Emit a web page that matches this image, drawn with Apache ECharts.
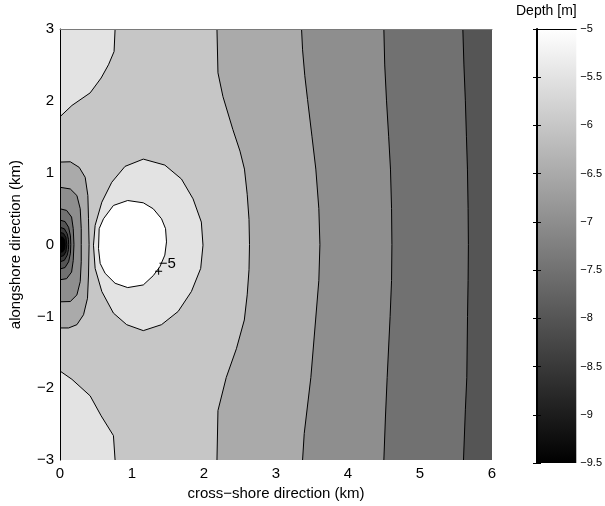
<!DOCTYPE html>
<html><head><meta charset="utf-8">
<script src="https://cdn.jsdelivr.net/npm/echarts@6/dist/echarts.min.js"></script>
<style>html,body{margin:0;padding:0;background:#fff}#c{width:605px;height:506px}</style>
</head><body><div id="c"></div>
<script>
// ---- axis ticks ----
const xTicks = [0, 1, 2, 3, 4, 5, 6];
const yTicks = [-3, -2, -1, 0, 1, 2, 3];
const cbTicks = [-9.5, -9, -8.5, -8, -7.5, -7, -6.5, -6, -5.5, -5];
const cbRange = [-9.5, -5];

// ---- contour lines: [x km, y km] ----
// open contours crossing the domain top to bottom
const c_m75 = [[5.595,3],[5.61,2.5],[5.63,2],[5.645,1.5],[5.659,1.05],[5.668,0.5],[5.672,0],[5.668,-0.5],[5.66,-1],[5.65,-1.85],[5.63,-2.3],[5.604,-3]];
const c_m70 = [[4.498,3],[4.51,2.5],[4.535,2],[4.565,1.5],[4.59,1.05],[4.605,0.5],[4.61,0],[4.605,-0.5],[4.585,-1],[4.544,-1.85],[4.52,-2.4],[4.498,-3]];
const c_m65 = [[3.355,3],[3.369,2.71],[3.40,2.35],[3.438,2.02],[3.50,1.5],[3.553,1.05],[3.595,0.5],[3.61,0],[3.595,-0.5],[3.55,-1.05],[3.484,-1.85],[3.392,-2.63],[3.369,-3]];
const c_m60 = [[2.18,3],[2.194,2.39],[2.263,2.06],[2.401,1.6],[2.50,1.3],[2.562,1.05],[2.60,0.7],[2.625,0.35],[2.632,0],[2.625,-0.35],[2.60,-0.7],[2.56,-1.05],[2.45,-1.45],[2.309,-1.85],[2.194,-2.31],[2.18,-3]];
// -5.5 corners
const c_m55_top = [[0.765,3],[0.751,2.686],[0.673,2.502],[0.571,2.318],[0.419,2.111],[0.166,1.936],[0,1.779]];
const c_m55_bot = [[0,-1.76],[0.166,-1.876],[0.419,-2.106],[0.571,-2.383],[0.742,-2.659],[0.765,-3]];
// closed -5.5 ring
const c_m55_ring = [[1.157,1.189],[1.456,1.106],[1.687,0.912],[1.848,0.636],[1.963,0.313],[1.986,-0.009],[1.954,-0.332],[1.825,-0.654],[1.641,-0.931],[1.41,-1.115],[1.157,-1.198],[0.926,-1.115],[0.742,-0.954],[0.581,-0.654],[0.488,-0.332],[0.465,-0.009],[0.488,0.267],[0.581,0.59],[0.719,0.867],[0.903,1.088]];
// closed -5 contour
const c_m50 = [[0.94,0.613],[1.157,0.581],[1.295,0.498],[1.41,0.359],[1.466,0.221],[1.479,0.037],[1.456,-0.147],[1.387,-0.309],[1.295,-0.433],[1.157,-0.562],[0.94,-0.599],[0.765,-0.539],[0.627,-0.401],[0.558,-0.263],[0.535,-0.055],[0.544,0.221],[0.604,0.359],[0.742,0.544]];
// lobe contours at the shore (x = 0)
const l_m60 = [[0,1.148],[0.143,1.152],[0.267,1.074],[0.35,0.936],[0.387,0.682],[0.396,0.359],[0.404,0],[0.396,-0.424],[0.382,-0.747],[0.327,-0.977],[0.235,-1.115],[0.12,-1.161],[0,-1.161]];
const l_m65 = [[0,0.797],[0.143,0.774],[0.235,0.682],[0.281,0.498],[0.295,0.221],[0.295,0],[0.295,-0.24],[0.281,-0.516],[0.235,-0.701],[0.143,-0.793],[0,-0.797]];
const l_m70 = [[0,0.498],[0.092,0.475],[0.161,0.383],[0.184,0.221],[0.194,0],[0.184,-0.221],[0.161,-0.383],[0.092,-0.475],[0,-0.49]];
const l_m75 = [[0,0.34],[0.07,0.32],[0.12,0.24],[0.145,0.12],[0.15,0],[0.145,-0.12],[0.12,-0.24],[0.07,-0.32],[0,-0.34]];
const l_m80 = [[0,0.24],[0.06,0.22],[0.1,0.15],[0.118,0.07],[0.12,0],[0.118,-0.07],[0.1,-0.15],[0.06,-0.22],[0,-0.24]];
const l_m85 = [[0,0.17],[0.05,0.155],[0.082,0.1],[0.095,0],[0.082,-0.1],[0.05,-0.155],[0,-0.17]];
const l_m90 = [[0,0.11],[0.04,0.1],[0.065,0.06],[0.072,0],[0.065,-0.06],[0.04,-0.1],[0,-0.11]];

// label on the -5 contour
const labelText = '−5';
const labelPos = [1.37, -0.262];
const labelMark = [1.37, -0.372];

// ---- build regions (fill level = lower bound of the band inside) ----
const X0 = xTicks[0], X1 = xTicks[xTicks.length-1], Y0 = yTicks[0], Y1 = yTicks[yTicks.length-1];
const leftOf = c => [[X0, Y1]].concat(c, [[X0, Y0]]);
const fills = [
  {pts: [[X0,Y1],[X1,Y1],[X1,Y0],[X0,Y0]], lev: -8},
  {pts: leftOf(c_m75), lev: -7.5},
  {pts: leftOf(c_m70), lev: -7},
  {pts: leftOf(c_m65), lev: -6.5},
  {pts: leftOf(c_m60), lev: -6},
  {pts: [[X0,Y1]].concat(c_m55_top), lev: -5.5},
  {pts: c_m55_bot.concat([[X0,Y0]]), lev: -5.5},
  {pts: c_m55_ring, lev: -5.5},
  {pts: c_m50, lev: -5},
  {pts: l_m60, lev: -6.5},
  {pts: l_m65, lev: -7},
  {pts: l_m70, lev: -7.5},
  {pts: l_m75, lev: -8},
  {pts: l_m80, lev: -8.5},
  {pts: l_m85, lev: -9},
  {pts: l_m90, lev: -9.5}
];
const lines = [
  {pts: c_m75, closed: false}, {pts: c_m70, closed: false}, {pts: c_m65, closed: false}, {pts: c_m60, closed: false},
  {pts: c_m55_top, closed: false}, {pts: c_m55_bot, closed: false},
  {pts: c_m55_ring, closed: true}, {pts: c_m50, closed: true},
  {pts: l_m60, closed: false}, {pts: l_m65, closed: false}, {pts: l_m70, closed: false},
  {pts: l_m75, closed: false}, {pts: l_m80, closed: false}, {pts: l_m85, closed: false}, {pts: l_m90, closed: false}
];

// gray colormap (64 levels) like MATLAB
function grayOf(v) {
  const t = (v - cbRange[0]) / (cbRange[1] - cbRange[0]);
  let idx = Math.min(63, Math.max(0, Math.floor(t * 64)));
  const g = Math.round(idx / 63 * 255);
  return 'rgb(' + g + ',' + g + ',' + g + ')';
}
const minus = v => String(v).replace('-', '−');
const FONT = 'Liberation Sans, Arial, Helvetica, sans-serif';

const chart = echarts.init(document.getElementById('c'), null, {renderer: 'canvas'});
chart.setOption({
  animation: false,
  backgroundColor: '#fff',
  textStyle: {fontFamily: FONT},
  grid: [
    {left: 58, top: 29, width: 434, height: 434, containLabel: false},
    {left: 537, top: 29, width: 41, height: 434, containLabel: false}
  ],
  xAxis: [
    {gridIndex: 0, type: 'value', min: X0, max: X1, interval: 1, z: 10,
     axisLine: {show: false}, axisTick: {show: false}, splitLine: {show: false},
     axisLabel: {color: '#000', fontSize: 15, margin: 6, fontFamily: FONT},
     name: 'cross−shore direction (km)', nameLocation: 'middle', nameGap: 25,
     nameTextStyle: {color: '#000', fontSize: 15, fontFamily: FONT}},
    {gridIndex: 0, type: 'value', min: X0, max: X1, position: 'top', z: 10,
     axisLine: {show: true, lineStyle: {color: '#7a7a7a', width: 1}}, axisTick: {show: false},
     axisLabel: {show: false}, splitLine: {show: false}},
    {gridIndex: 1, type: 'value', min: 0, max: 1, show: false},
    {gridIndex: 1, type: 'value', min: 0, max: 1, position: 'top', z: 10,
     axisLine: {show: true, lineStyle: {color: '#000', width: 1}}, axisTick: {show: false},
     axisLabel: {show: false}, splitLine: {show: false}}
  ],
  yAxis: [
    {gridIndex: 0, type: 'value', min: Y0, max: Y1, interval: 1, z: 10,
     axisLine: {show: true, lineStyle: {color: '#000', width: 1}}, axisTick: {show: false}, splitLine: {show: false},
     axisLabel: {color: '#000', fontSize: 15, margin: 6, fontFamily: FONT, formatter: minus},
     name: 'alongshore direction (km)', nameLocation: 'middle', nameGap: 37, nameRotate: 90,
     nameTextStyle: {color: '#000', fontSize: 15, fontFamily: FONT}},
    {gridIndex: 1, type: 'value', min: cbRange[0], max: cbRange[1], interval: 0.5, position: 'left', z: 10,
     axisLine: {show: true, lineStyle: {color: '#222', width: 1}},
     axisTick: {show: true, inside: true, length: 4, lineStyle: {color: '#000'}},
     axisLabel: {show: false}, splitLine: {show: false}},
    {gridIndex: 1, type: 'value', min: cbRange[0], max: cbRange[1], interval: 0.5, position: 'right', z: 10,
     axisLine: {show: true, lineStyle: {color: '#000', width: 2}},
     axisTick: {show: true, inside: true, length: 4, lineStyle: {color: '#000'}},
     axisLabel: {color: '#000', fontSize: 11, margin: 4, fontFamily: FONT, formatter: minus},
     splitLine: {show: false}}
  ],
  series: [
    {type: 'custom', xAxisIndex: 0, yAxisIndex: 0, clip: true, z: 2,
     data: fills.map(f => f.pts[0]),
     renderItem: (params, api) => {
       const f = fills[params.dataIndex];
       return {type: 'polygon', shape: {points: f.pts.map(p => api.coord(p))},
               style: {fill: grayOf(f.lev), stroke: null}};
     }},
    {type: 'custom', xAxisIndex: 0, yAxisIndex: 0, clip: true, z: 3,
     data: lines.map(l => l.pts[0]),
     renderItem: (params, api) => {
       const l = lines[params.dataIndex];
       return {type: l.closed ? 'polygon' : 'polyline', shape: {points: l.pts.map(p => api.coord(p))},
               style: {fill: null, stroke: '#000', lineWidth: 1}};
     }},
    {type: 'custom', xAxisIndex: 0, yAxisIndex: 0, clip: false, z: 4,
     data: [labelPos],
     renderItem: (params, api) => {
       const p = api.coord(labelPos), m = api.coord(labelMark);
       return {type: 'group', children: [
         {type: 'text', x: p[0], y: p[1], style: {text: labelText, fill: '#000', font: '15px ' + FONT, textAlign: 'left', textVerticalAlign: 'middle'}},
         {type: 'line', shape: {x1: m[0]-3.5, y1: m[1], x2: m[0]+3.5, y2: m[1]}, style: {stroke: '#000', lineWidth: 1}},
         {type: 'line', shape: {x1: m[0], y1: m[1]-3.5, x2: m[0], y2: m[1]+3.5}, style: {stroke: '#000', lineWidth: 1}}
       ]};
     }},
    {type: 'custom', xAxisIndex: 2, yAxisIndex: 1, clip: false, z: 2,
     data: [[0, cbRange[0]]],
     renderItem: (params, api) => {
       const a = api.coord([0, cbRange[1]]), b = api.coord([1, cbRange[0]]);
       return {type: 'rect', shape: {x: a[0], y: a[1], width: b[0]-a[0], height: b[1]-a[1]},
               style: {fill: new echarts.graphic.LinearGradient(0, 0, 0, 1, [{offset: 0, color: '#fff'}, {offset: 1, color: '#000'}])}};
     }}
  ],
  graphic: [
    {type: 'text', left: 516, top: 4, style: {text: 'Depth [m]', fill: '#000', font: '14px ' + FONT}}
  ]
});
</script></body></html>
